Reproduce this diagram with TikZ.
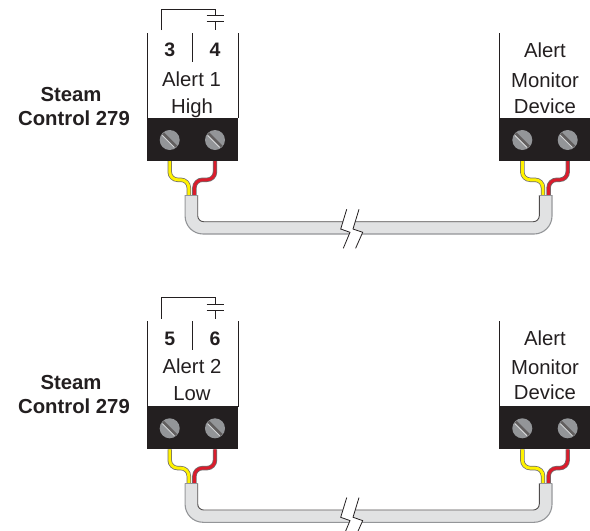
\documentclass[tikz,border=0pt]{standalone}
\usepackage{fontspec}
\setmainfont{Liberation Sans}
\definecolor{blk}{HTML}{231F20}
\definecolor{scr}{HTML}{939598}
\definecolor{cbl}{HTML}{E1E2E3}
\definecolor{ylw}{HTML}{FFF200}
\definecolor{rd}{HTML}{DA1C2C}
\tikzset{x=1pt,y=-1pt,
 txt/.style={font=\fontsize{20.3}{24}\selectfont,text=blk,inner sep=0pt,anchor=base},
 numtxt/.style={txt,font=\fontsize{19.5}{24}\bfseries\selectfont},
 lbl/.style={txt,font=\fontsize{20.3}{24}\bfseries\selectfont},
 outl/.style={draw=blk,line width=.9pt},
 term/.style={fill=blk,draw=none,minimum width=91pt,minimum height=43pt,inner sep=0pt},
 screw/.style={circle,fill=scr,draw=none,minimum size=20pt,inner sep=0pt},
 cablefill/.style={draw=cbl,line width=12pt,line cap=butt},
 wireout/.style={draw=blk!65,line width=4.4pt},
 wirein/.style={line width=2.9pt}}
\newcommand{\screwslot}[1]{\draw[blk!72,line width=2.6pt] ([shift={(-6.6,-6.6)}]#1.center) -- ([shift={(6.6,6.6)}]#1.center);
 \draw[white!65!scr,line width=.8pt] ([shift={(-7.4,-4.6)}]#1.center) -- ([shift={(4.6,7.4)}]#1.center);}
\newcommand{\wiringunit}[2]{%
\begin{scope}[yshift=-#2pt]
 \node[term] (#1L) at (192.3,139.5) {};
 \node[term] (#1R) at (544.5,139.5) {};
 \node[screw] (#1La) at (169.7,140) {};
 \node[screw] (#1Lb) at (215,140) {};
 \node[screw] (#1Ra) at (522.3,140) {};
 \node[screw] (#1Rb) at (567.7,140) {};
 \screwslot{#1La}\screwslot{#1Lb}\screwslot{#1Ra}\screwslot{#1Rb}
 \coordinate (#1y) at (188.8,195.5); \coordinate (#1r) at (194.4,195.5);
 \coordinate (#1y2) at (543,195.5); \coordinate (#1r2) at (548.6,195.5);
 \coordinate (#1cL) at (191.4,195); \coordinate (#1cR) at (545.6,195);
 \foreach \p/\q/\c in {#1La/#1y/ylw,#1Lb/#1r/rd,#1Ra/#1y2/ylw,#1Rb/#1r2/rd}{
  \draw[wireout,rounded corners=8pt] (\p.center |- 0,161) -- (\p.center |- 0,179.8) -- (\q |- 0,179.8) -- (\q);
  \draw[wirein,draw=\c,rounded corners=8pt] (\p.center |- 0,161) -- (\p.center |- 0,179.8) -- (\q |- 0,179.8) -- (\q);
 }
 \draw[cablefill,rounded corners=12pt] (#1cL) -- (#1cL |- 0,228) -- (#1cR |- 0,228) -- (#1cR);
 \draw[blk!80,line width=.9pt,rounded corners=6pt] (197.7,195) -- (197.7,221.7) -- (539.3,221.7) -- (539.3,195);
 \draw[scr,line width=1.1pt,rounded corners=18pt] (185.1,195) -- (185.1,234) -- (552,234) -- (552,195);
 \draw[scr,line width=.6pt] (185.1,195) -- (197.7,195) (539.3,195) -- (552,195);
 \fill[white] (346.7,209) -- (340.7,229) -- (350,232.3) -- (343.3,248.3) -- (355.6,248.3) -- (362.7,232.3) -- (353,229) -- (359,209) -- cycle;
 \draw[blk,line width=.8pt] (346.7,209.3) -- (340.7,229) -- (350,232.3) -- (343.3,248.3);
 \draw[blk,line width=.8pt] (359,209.3) -- (353,229) -- (362.7,232.3) -- (355.6,248.3);
\end{scope}}
\begin{document}
\begin{tikzpicture}
\useasboundingbox (0,0) rectangle (590,531);
\wiringunit{u}{0}
\wiringunit{l}{288.3}
\coordinate (ua) at (161.7,30); \coordinate (ub) at (215,30);
\coordinate (ut) at (215,21.7); \coordinate (up) at (215,15.7);
\draw[outl] (ua) -- (161.7,9.3) -- (215,9.3) -- (up);
\draw[outl] (ut) -- (ub);
\draw[outl] (206.7,15.7) -- (224,15.7) (206.7,21.7) -- (224,21.7);
\draw[outl] (147,33) -- (147,118) (238,33) -- (238,118);
\draw[outl] (192,33) -- (192,62);
\node[numtxt] (n3) at (169.7,56.7) {3};
\node[numtxt] (n4) at (215,56.7) {4};
\node[txt] (a1) at (191.5,86) {Alert 1};
\node[txt] (h1) at (192,113.3) {High};
\node[lbl] (s1a) at (71,101) {Steam};
\node[lbl] (s1b) at (74,125) {Control 279};
\draw[outl] (499.5,33) -- (499.5,118);
\node[txt] (m1) at (545,57.3) {Alert};
\node[txt] (m2) at (545,87.5) {Monitor};
\node[txt] (m3) at (545,113.3) {Device};
\coordinate (la) at (161.7,318.5); \coordinate (lb) at (215,318.5);
\coordinate (lt) at (215,310); \coordinate (lp) at (215,304);
\draw[outl] (la) -- (161.7,297.7) -- (215,297.7) -- (lp);
\draw[outl] (lt) -- (lb);
\draw[outl] (206.7,304) -- (224,304) (206.7,310) -- (224,310);
\draw[outl] (147,321) -- (147,406.5) (238,321) -- (238,406.5);
\draw[outl] (192,321) -- (192,350);
\node[numtxt] (n5) at (169.7,345) {5};
\node[numtxt] (n6) at (215,345) {6};
\node[txt] (a2) at (192,373.3) {Alert 2};
\node[txt] (h2) at (192,400) {Low};
\node[lbl] (s2a) at (71,389) {Steam};
\node[lbl] (s2b) at (74,413) {Control 279};
\draw[outl] (499.5,321) -- (499.5,406.5);
\node[txt] (m4) at (545,345.5) {Alert};
\node[txt] (m5) at (545,374) {Monitor};
\node[txt] (m6) at (545,399.3) {Device};
\end{tikzpicture}
\end{document}
